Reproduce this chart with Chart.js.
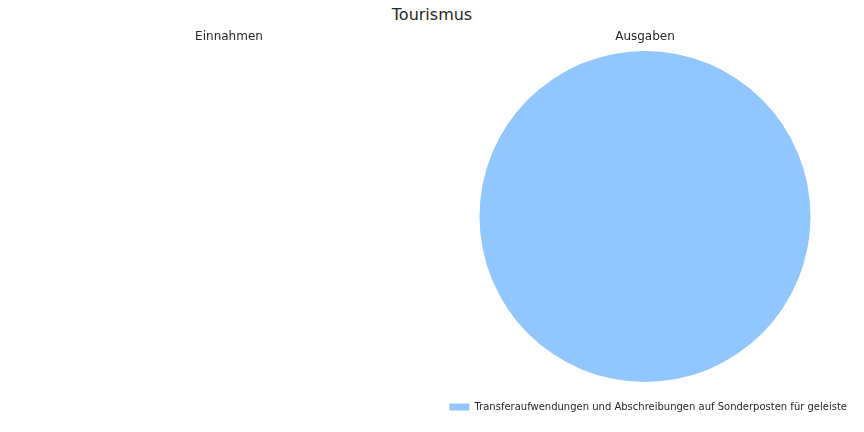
<!DOCTYPE html>
<html>
<head>
<meta charset="utf-8">
<script src="https://cdn.jsdelivr.net/npm/chart.js@4"></script>
<style>
	body { margin: 0; width: 864px; height: 432px; background: #fff; position: relative; overflow: hidden; font-family: "DejaVu Sans", sans-serif; }
	#title { position: absolute; left: 0; top: 5px; width: 864px; text-align: center; font-size: 16px; color: #262626; }
	#left { position: absolute; left: 0; top: 0; }
	#right { position: absolute; left: 423px; top: 0; }
</style>
</head>
<body>
<div id="title">Tourismus</div>
<canvas id="left" width="458" height="432"></canvas>
<canvas id="right" width="444" height="432"></canvas>
<script>
// Einnahmen: keine Werte
var einnahmenLabels = [];
var einnahmenValues = [];

// Ausgaben
var ausgabenLabels = ["Transferaufwendungen und Abschreibungen auf Sonderposten für geleiste"];
var ausgabenValues = [1];

var colors = ["#92C6FF"];

Chart.defaults.font.family = "'DejaVu Sans', sans-serif";
Chart.defaults.color = "#262626";

var leftChart = new Chart(document.getElementById("left"), {
	type: "pie",
	data: {
		labels: einnahmenLabels,
		datasets: [{ data: einnahmenValues, backgroundColor: colors, borderWidth: 0 }]
	},
	options: {
		responsive: false,
		animation: false,
		plugins: {
			legend: { display: false },
			tooltip: { enabled: false },
			title: { display: true, text: "Einnahmen", font: { size: 12, weight: "normal" }, padding: { top: 30, bottom: 6.6 } }
		}
	}
});

var rightChart = new Chart(document.getElementById("right"), {
	type: "pie",
	data: {
		labels: ausgabenLabels,
		datasets: [{ data: ausgabenValues, backgroundColor: colors, borderWidth: 0 }]
	},
	options: {
		responsive: false,
		animation: false,
		layout: { padding: { bottom: 10 } },
		plugins: {
			tooltip: { enabled: false },
			title: { display: true, text: "Ausgaben", font: { size: 12, weight: "normal" }, padding: { top: 30, bottom: 6.6 } },
			legend: {
				position: "bottom",
				align: "end",
				labels: { boxWidth: 20, boxHeight: 7, font: { size: 10 }, padding: 20 }
			}
		}
	}
});
</script>
</body>
</html>
